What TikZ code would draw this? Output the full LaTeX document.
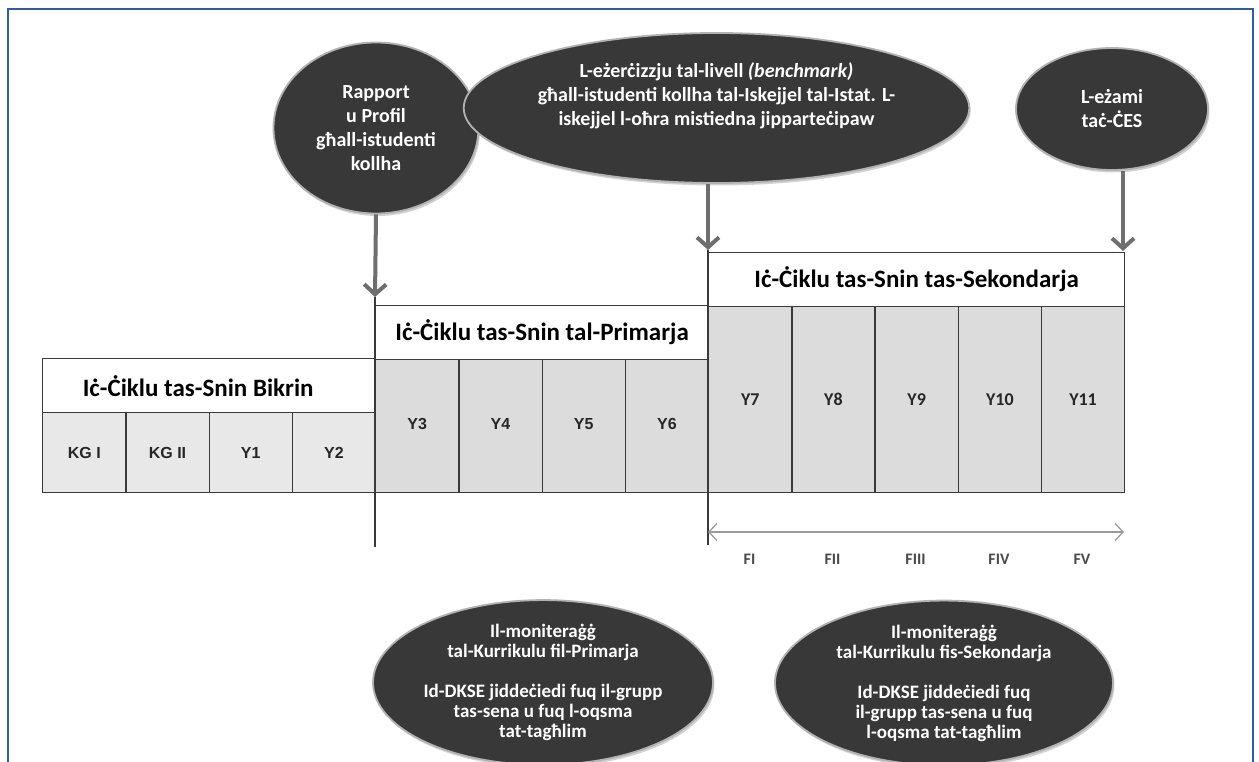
\documentclass[tikz,border=0pt]{standalone}
\usepackage{fontspec}
\setmainfont{Carlito}
\newfontfamily\arialf{Liberation Sans}
\usetikzlibrary{arrows.meta,shapes.geometric,shadows}
\definecolor{framecol}{HTML}{2F5E9A}
\definecolor{edgecol}{HTML}{3A3A3A}
\definecolor{cellA}{HTML}{E8E8E8}
\definecolor{cellB}{HTML}{DCDCDC}
\definecolor{ballcol}{HTML}{383838}
\definecolor{arrcol}{HTML}{6E6E6E}
\definecolor{dblcol}{HTML}{9A9A9A}
\definecolor{flab}{HTML}{4A4A4A}
\tikzset{
  hdr/.style={draw=edgecol, line width=1.3pt, fill=white, inner sep=0pt, anchor=north west,
    font=\fontsize{25}{30}\selectfont\bfseries},
  cella/.style={draw=edgecol, line width=1.3pt, fill=cellA, inner sep=0pt, anchor=north west,
    font=\arialf\fontsize{16}{18}\selectfont\bfseries, text=black!85},
  cellb/.style={draw=edgecol, line width=1.3pt, fill=cellB, inner sep=0pt, anchor=north west,
    font=\arialf\fontsize{16}{18}\selectfont\bfseries, text=black!85},
  cellc/.style={draw=edgecol, line width=1.3pt, fill=cellB, inner sep=0pt, anchor=north west,
    font=\fontsize{18}{20}\selectfont\bfseries, text=black!85},
  ball/.style={ellipse, fill=ballcol, draw=gray!60, line width=1.8pt, inner sep=0pt,
    text=white, align=center, font=\fontsize{20}{24}\selectfont\bfseries,
    drop shadow={shadow xshift=1.5pt, shadow yshift=-2.5pt, opacity=.35}},
  ballsm/.style={ball, font=\fontsize{19}{20}\selectfont\bfseries},
  bigarrow/.style={draw=arrcol, line width=4pt, -{Straight Barb[length=10pt,width=22pt]}},
  dblarrow/.style={draw=dblcol, line width=1.3pt, {Straight Barb[length=8pt,width=17pt]}-{Straight Barb[length=8pt,width=17pt]}},
  vline/.style={draw=edgecol, line width=1.3pt},
  flabel/.style={inner sep=0pt, text=flab, font=\fontsize{16}{18}\selectfont\bfseries}
}
\begin{document}
\begin{tikzpicture}[x=1pt,y=-1pt]
\useasboundingbox (0,0) rectangle (1259,762);
\fill[white] (0,0) rectangle (1259,762);
\draw[framecol, line width=2pt] (8,763) -- (8,9) -- (1253,9) -- (1253,763);

% Bikrin
\node[cella, minimum width=83.25pt, minimum height=80pt] (kg1) at (42,412) {KG I};
\node[cella, minimum width=83.25pt, minimum height=80pt] (kg2) at (125.25,412) {KG II};
\node[cella, minimum width=83.25pt, minimum height=80pt] (y1) at (208.5,412) {Y1};
\node[cella, minimum width=83.25pt, minimum height=80pt] (y2) at (291.75,412) {Y2};
\node[hdr, minimum width=333pt, minimum height=54pt] (hb) at (42,358) {Iċ-Ċiklu tas-Snin Bikrin\hspace*{22pt}};

% Primarja
\node[cellb, minimum width=83.25pt, minimum height=133pt] (y3) at (375,359) {\raisebox{4pt}{Y3}};
\node[cellb, minimum width=83.25pt, minimum height=133pt] (y4) at (458.25,359) {\raisebox{4pt}{Y4}};
\node[cellb, minimum width=83.25pt, minimum height=133pt] (y5) at (541.5,359) {\raisebox{4pt}{Y5}};
\node[cellb, minimum width=83.25pt, minimum height=133pt] (y6) at (624.75,359) {\raisebox{4pt}{Y6}};
\node[hdr, minimum width=333pt, minimum height=54pt] (hp) at (375,305) {Iċ-Ċiklu tas-Snin tal-Primarja};

% Sekondarja
\node[cellc, minimum width=83.2pt, minimum height=186pt] (y7) at (708,306) {Y7};
\node[cellc, minimum width=83.2pt, minimum height=186pt] (y8) at (791.2,306) {Y8};
\node[cellc, minimum width=83.2pt, minimum height=186pt] (y9) at (874.4,306) {Y9};
\node[cellc, minimum width=83.2pt, minimum height=186pt] (y10) at (957.6,306) {Y10};
\node[cellc, minimum width=83.2pt, minimum height=186pt] (y11) at (1040.8,306) {Y11};
\node[hdr, minimum width=416pt, minimum height=54pt] (hs) at (708,252) {Iċ-Ċiklu tas-Snin tas-Sekondarja};

% vertical lines
\coordinate (v1top) at (375,297);
\coordinate (v1bot) at (375,547);
\coordinate (v2top) at (708,250);
\coordinate (v2bot) at (708,545);
\coordinate (v3top) at (1123,251);
\draw[vline] (v1top) -- (v1bot);
\draw[vline] (v2top) -- (v2bot);

% ellipses
\node[ball, minimum width=205pt, minimum height=171pt] (e1) at (376,128)
  {Rapport\\u Profil\\għall-istudenti\\kollha};
\node[ball, minimum width=403pt, minimum height=150pt] (e2) at (716.5,108)
  {L-eżerċizzju tal-livell \textit{(benchmark)}\\għall-istudenti kollha tal-Iskejjel tal-Istat. L-\\iskejjel l-oħra mistiedna jipparteċipaw\\[4pt]};
\node[ball, minimum width=192pt, minimum height=122pt] (e3) at (1112,109)
  {L-eżami\\taċ-ĊES};
\node[ballsm, minimum width=340pt, minimum height=141pt] (e4) at (543,682.5)
  {Il-moniteraġġ\\tal-Kurrikulu fil-Primarja\\[20pt]Id-DKSE jiddeċiedi fuq il-grupp\\tas-sena u fuq l-oqsma\\tat-tagħlim};
\node[ballsm, minimum width=338pt, minimum height=140pt] (e5) at (944,683)
  {Il-moniteraġġ\\tal-Kurrikulu fis-Sekondarja\\[20pt]Id-DKSE jiddeċiedi fuq\\il-grupp tas-sena u fuq\\l-oqsma tat-tagħlim};

% arrows from ellipses
\draw[bigarrow] (e1.south) -- (v1top);
\draw[bigarrow] (v2top |- e2.south) -- (v2top);
\draw[bigarrow] (v3top |- e3.south) -- (v3top);

% double arrow
\coordinate (da1) at (708,532);
\coordinate (da2) at (1124,532);
\draw[dblarrow] (da1) -- (da2);

% form labels
\node[flabel] (f1) at (749.5,559) {FI};
\node[flabel] (f2) at (832.5,559) {FII};
\node[flabel] (f3) at (915.5,559) {FIII};
\node[flabel] (f4) at (999,559) {FIV};
\node[flabel] (f5) at (1082,559) {FV};
\end{tikzpicture}
\end{document}
